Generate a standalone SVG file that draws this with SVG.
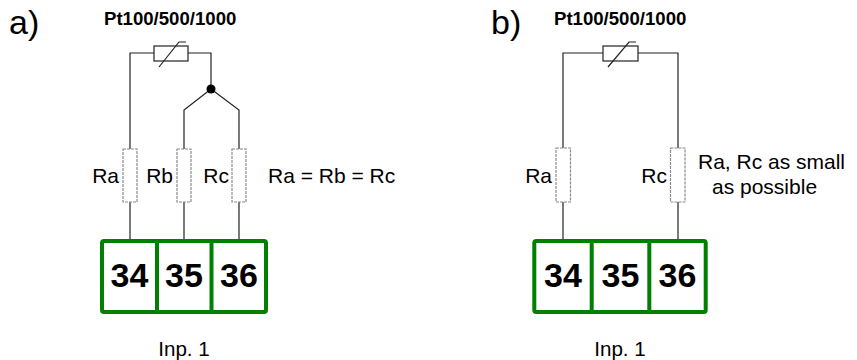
<svg xmlns="http://www.w3.org/2000/svg" width="857" height="360" viewBox="0 0 857 360">
<style>
text { font-family: "Liberation Sans", Arial, sans-serif; fill: #000; }
.lbl { font-size: 21px; }
.title { font-size: 18.6px; font-weight: bold; }
.num { font-size: 34px; font-weight: bold; text-anchor: middle; }
.panel { font-size: 34px; }
.inp { font-size: 20.6px; text-anchor: middle; }
.wire { fill: none; stroke: #222; stroke-width: 1.2; }
.res { fill: #fff; stroke: #8a8a8a; stroke-width: 1.2; stroke-dasharray: 3 1; }
.rtd { fill: #fff; stroke: #222; stroke-width: 1.2; }
.term { fill: #fff; stroke: #008000; stroke-width: 4; }
.div { stroke: #008000; stroke-width: 4; }
</style>
<rect width="857" height="360" fill="#fff"/>

<text class="panel" x="9" y="34">a)</text>
<text class="panel" x="491" y="34">b)</text>

<g id="connectors">
  <!-- panel a -->
  <path class="wire" d="M130,149 V53 H154"/>
  <path class="wire" d="M188,53 H211 V89"/>
  <path class="wire" d="M211,89 L184,110 V149"/>
  <path class="wire" d="M211,89 L239,110 V149"/>
  <path class="wire" d="M130,202 V239 M184,202 V239 M239,202 V239"/>
  <circle cx="211" cy="89" r="4.5" fill="#000"/>
  <!-- panel b -->
  <path class="wire" d="M563,148 V53 H603"/>
  <path class="wire" d="M638,53 H678 V148"/>
  <path class="wire" d="M563,202 V239 M678,202 V239"/>
</g>

<g id="rtd-a">
  <text class="title" x="104" y="25">Pt100/500/1000</text>
  <rect class="rtd" x="154" y="46" width="34" height="15"/>
  <path class="wire" d="M159,67 L179,42 H186"/>
</g>
<g id="ra-a">
  <rect class="res" x="123" y="149" width="14" height="53"/>
  <text class="lbl" x="119" y="183" text-anchor="end">Ra</text>
</g>
<g id="rb-a">
  <rect class="res" x="177" y="149" width="14" height="53"/>
  <text class="lbl" x="173" y="183" text-anchor="end">Rb</text>
</g>
<g id="rc-a">
  <rect class="res" x="232" y="149" width="14" height="53"/>
  <text class="lbl" x="229" y="183" text-anchor="end">Rc</text>
</g>
<g id="note-a">
  <text class="lbl" x="268" y="183" font-size="22.5">Ra = Rb = Rc</text>
</g>
<g id="terminal-a">
  <rect class="term" x="102" y="241" width="164" height="71" rx="2"/>
  <line class="div" x1="157" y1="241" x2="157" y2="312"/>
  <line class="div" x1="211.5" y1="241" x2="211.5" y2="312"/>
  <text class="num" x="129.5" y="287">34</text>
  <text class="num" x="184" y="287">35</text>
  <text class="num" x="239" y="287">36</text>
  <text class="inp" x="184" y="356">Inp. 1</text>
</g>

<g id="rtd-b">
  <text class="title" x="554" y="25">Pt100/500/1000</text>
  <rect class="rtd" x="603" y="46" width="35" height="15"/>
  <path class="wire" d="M608,67 L629,42 H636"/>
</g>
<g id="ra-b">
  <rect class="res" x="556" y="148" width="14.5" height="54"/>
  <text class="lbl" x="552" y="183" text-anchor="end">Ra</text>
</g>
<g id="rc-b">
  <rect class="res" x="670.5" y="148" width="14.5" height="54"/>
  <text class="lbl" x="667" y="183" text-anchor="end">Rc</text>
</g>
<g id="note-b">
  <text class="lbl" x="698" y="169">Ra, Rc as small</text>
  <text class="lbl" x="712" y="194">as possible</text>
</g>
<g id="terminal-b">
  <rect class="term" x="534.3" y="241" width="171.4" height="71" rx="2"/>
  <line class="div" x1="591.7" y1="241" x2="591.7" y2="312"/>
  <line class="div" x1="649.3" y1="241" x2="649.3" y2="312"/>
  <text class="num" x="563" y="287">34</text>
  <text class="num" x="620.5" y="287">35</text>
  <text class="num" x="677.5" y="287">36</text>
  <text class="inp" x="620" y="356">Inp. 1</text>
</g>
</svg>
